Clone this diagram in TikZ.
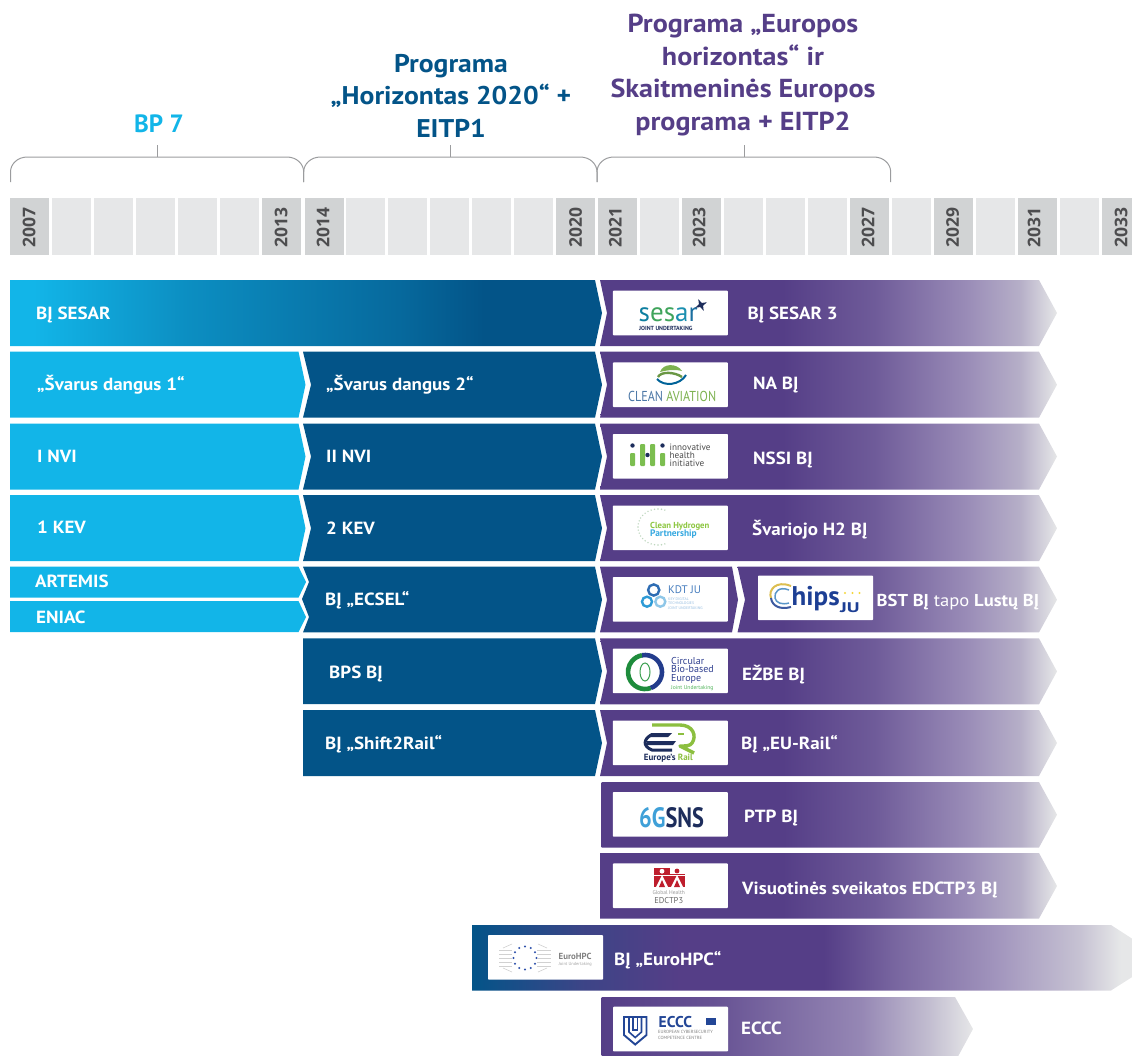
\documentclass[tikz,border=0pt]{standalone}
\usepackage{fontspec}
\usepackage{graphicx}
\usetikzlibrary{shapes.geometric}
\setmainfont{PT Sans}
\newfontfamily\labfont[FakeStretch=1.08]{PT Sans}
\newfontfamily\yearfont{Open Sans}
\definecolor{cy}{HTML}{12B5E8}
\definecolor{nv}{HTML}{035488}
\definecolor{pu}{HTML}{553E87}
\definecolor{cellL}{HTML}{E6E7E8}
\definecolor{cellD}{HTML}{D1D3D4}
\definecolor{brk}{HTML}{9B9C9E}
\definecolor{yr}{HTML}{4D4D4F}
\definecolor{inkn}{HTML}{1D2D5C}
\definecolor{gleaf}{HTML}{7DB250}
\definecolor{railg}{HTML}{8CBF3F}
\definecolor{kdtink}{HTML}{467DBE}
\definecolor{kdtpale}{HTML}{96BEE1}
\definecolor{chipsink}{HTML}{1D3F94}
\definecolor{circink}{HTML}{2F3F8F}
\definecolor{ecink}{HTML}{234696}
\definecolor{edred}{HTML}{BE1E2D}
\definecolor{ihigreen}{HTML}{7CBE50}
\pgfdeclarehorizontalshading{purplebar}{100bp}{
 color(0bp)=(pu); color(25bp)=(pu); color(45bp)=(pu); color(55bp)=(pu!85!white); color(65bp)=(pu!60!white); color(71bp)=(pu!33!cellL); color(75bp)=(cellL); color(100bp)=(cellL)}
\pgfdeclarehorizontalshading{sesarbar}{100bp}{
 color(0bp)=(cy); color(25bp)=(cy); color(27bp)=(cy); color(40bp)=(cy!60!nv); color(58bp)=(nv!75!cy!85!nv); color(65bp)=(nv); color(75bp)=(nv); color(100bp)=(nv)}
\pgfdeclarehorizontalshading{hpcbar}{100bp}{
 color(0bp)=(nv); color(25bp)=(nv); color(33bp)=(pu!70!nv); color(40bp)=(pu); color(50.5bp)=(pu); color(56bp)=(pu!78!white); color(63bp)=(pu!55!white); color(69bp)=(pu!22!cellL); color(72bp)=(cellL); color(100bp)=(cellL)}
\pgfdeclarehorizontalshading{ecccbar}{100bp}{
 color(0bp)=(pu); color(25bp)=(pu); color(40bp)=(pu!90!white); color(60bp)=(pu!62!white); color(69bp)=(pu!25!cellL); color(75bp)=(cellL); color(100bp)=(cellL)}
\tikzset{
 x=1pt,y=-1pt,
 lab/.style={anchor=base west,inner sep=0pt,text=white,font=\labfont\fontsize{17.6}{20}\selectfont\bfseries},
 yearlab/.style={rotate=90,anchor=west,inner sep=0pt,text=yr,font=\yearfont\fontsize{17.5}{20}\selectfont\bfseries},
 ttl/.style={align=center,inner sep=0pt,font=\labfont\fontsize{26}{32.5}\selectfont\bfseries},
 logobox/.style={fill=white,rounded corners=0.8pt},
 brace/.style={draw=brk,line width=1pt},
 tiny/.style={inner sep=0pt,anchor=base west},
}
\newcommand{\yearcell}[2]{\fill[#2] (#1,198) rectangle ++(39,57);}
\newcommand{\yearmark}[2]{\node[yearlab] at (#1,248) {#2};}
\newcommand{\brackt}[3]{\draw[brace] (#1,182) -- (#1,172) .. controls (#1,164) and (#1+7,157) .. (#1+17,157) -- (#2-17,157) .. controls (#2-7,157) and (#2,164) .. (#2,172) -- (#2,182);
 \draw[brace] (#3,157) -- (#3,145);}
\newcommand{\purplerow}[1]{\shade[shading=purplebar] (600,#1) -- (1039,#1) -- (1057,#1+33) -- (1039,#1+66) -- (600,#1+66) -- (607,#1+33) -- cycle;}
\newcommand{\navyrow}[1]{\fill[nv] (303,#1) -- (595,#1) -- (602,#1+33) -- (595,#1+66) -- (303,#1+66) -- (311,#1+33) -- cycle;}
\newcommand{\cyanrow}[1]{\fill[cy] (10,#1) -- (298.5,#1) -- (305.5,#1+33) -- (298.5,#1+66) -- (10,#1+66) -- cycle;}
\newcommand{\lbox}[2]{\fill[logobox] (#1,#2) rectangle ++(115,44.6);}
\begin{document}
\begin{tikzpicture}
\useasboundingbox (0,0) rectangle (1132,1055);
\clip (0,0) rectangle (1132,1055);
% titles
\node[ttl,text=cy,font=\fontsize{25}{32}\selectfont\bfseries] (t1) at (159,124) {BP 7};
\node[ttl,text=nv,font=\labfont\fontsize{25.6}{32.5}\selectfont\bfseries] (t2) at (451,95.5) {Programa\\„Horizontas 2020“ +\\EITP1};
\node[ttl,text=pu] (t3) at (743,75) {Programa „Europos\\horizontas“ ir\\Skaitmeninės Europos\\programa + EITP2};
% brackets
\brackt{10.5}{303.7}{157}
\brackt{303.7}{597}{450.5}
\brackt{597}{890.7}{744}
% years
\yearcell{10.3}{cellD}
\yearcell{52.4}{cellL}
\yearcell{94.4}{cellL}
\yearcell{136.4}{cellL}
\yearcell{178.4}{cellL}
\yearcell{220.4}{cellL}
\yearcell{262.2}{cellD}
\yearcell{304.5}{cellD}
\yearcell{346.4}{cellL}
\yearcell{388.4}{cellL}
\yearcell{430.4}{cellL}
\yearcell{472.4}{cellL}
\yearcell{514.4}{cellL}
\yearcell{556}{cellD}
\yearcell{598}{cellD}
\yearcell{640}{cellL}
\yearcell{682}{cellD}
\yearcell{724}{cellL}
\yearcell{766}{cellL}
\yearcell{808}{cellL}
\yearcell{850}{cellD}
\yearcell{892}{cellL}
\yearcell{934}{cellD}
\yearcell{976}{cellL}
\yearcell{1018}{cellD}
\yearcell{1060}{cellL}
\yearcell{1102}{cellD}
\yearmark{29}{2007}
\yearmark{281}{2013}
\yearmark{323}{2014}
\yearmark{575.5}{2020}
\yearmark{615.4}{2021}
\yearmark{699}{2023}
\yearmark{868}{2027}
\yearmark{952.5}{2029}
\yearmark{1034}{2031}
\yearmark{1121}{2033}
% left bars
\shade[shading=sesarbar] (10,280) -- (595,280) -- (602,313) -- (595,346) -- (10,346) -- cycle;
\cyanrow{351.7}
\cyanrow{423.5}
\cyanrow{495.2}
\fill[cy] (10,566.7) -- (298.5,566.7) -- (306,582) -- (298.5,597.7) -- (10,597.7) -- cycle;
\fill[cy] (10,601) -- (298.5,601) -- (306,617) -- (298.5,632) -- (10,632) -- cycle;
\navyrow{351.7}
\navyrow{423.5}
\navyrow{495.2}
\fill[nv] (303,566.7) -- (595,566.7) -- (602,599.7) -- (595,632.4) -- (303,632.4) -- (309,617) -- (302,599) -- (309,582) -- cycle;
\fill[nv] (303,638.4) -- (595,638.4) -- (602,671) -- (595,704) -- (303,704) -- cycle;
\fill[nv] (303,710) -- (595,710) -- (602,743) -- (595,776) -- (303,776) -- cycle;
% purple bars
\purplerow{280}
\purplerow{351.7}
\purplerow{423.5}
\purplerow{495.2}
\fill[pu] (600,566.7) -- (732,566.7) -- (738,599.7) -- (732,632.4) -- (600,632.4) -- (607,599.7) -- cycle;
\shade[shading=purplebar] (600,566.7) (737.5,566.7) -- (1039,566.7) -- (1057,599.7) -- (1039,632.4) -- (737.5,632.4) -- (745,599.7) -- cycle;
\purplerow{638.4}
\purplerow{710}
\shade[shading=purplebar] (601.5,782) -- (1039,782) -- (1057,814.7) -- (1039,847.5) -- (601.5,847.5) -- cycle;
\shade[shading=purplebar] (600,853) -- (1039,853) -- (1057,886) -- (1039,918.5) -- (600,918.5) -- cycle;
\shade[shading=hpcbar] (472,925) -- (1111,925) -- (1162,958) -- (1111,990.5) -- (472,990.5) -- cycle;
\shade[shading=ecccbar] (601.5,997) -- (955,997) -- (973,1029) -- (955,1062) -- (601.5,1062) -- cycle;
% labels
\node[lab] (a1) at (36,319) {BĮ SESAR};
\node[lab] (a2) at (37,390) {„Švarus dangus 1“};
\node[lab] (a3) at (37,462) {I NVI};
\node[lab] (a4) at (37,533) {1 KEV};
\node[lab] (a5) at (35,587) {ARTEMIS};
\node[lab] (a6) at (36,623) {ENIAC};
\node[lab] (b2) at (326,390) {„Švarus dangus 2“};
\node[lab] (b3) at (326,462) {II NVI};
\node[lab] (b4) at (326,534) {2 KEV};
\node[lab] (b5) at (325,605) {BĮ „ECSEL“};
\node[lab] (b6) at (329,678) {BPS BĮ};
\node[lab] (b7) at (325,749) {BĮ „Shift2Rail“};
\node[lab] (c1) at (747.5,319) {BĮ SESAR 3};
\node[lab] (c2) at (753,389) {NA BĮ};
\node[lab] (c3) at (753,464) {NSSI BĮ};
\node[lab] (c4) at (752,535) {Švariojo H2 BĮ};
\node[lab,font=\labfont\fontsize{17.2}{20}\selectfont\bfseries] (c5) at (876.5,606) {BST BĮ \mdseries tapo \bfseries Lustų BĮ};
\node[lab] (c6) at (742,680) {EŽBE BĮ};
\node[lab] (c7) at (741,749) {BĮ „EU-Rail“};
\node[lab] (c8) at (744,822) {PTP BĮ};
\node[lab] (c9) at (742,894) {Visuotinės sveikatos EDCTP3 BĮ};
\node[lab] (c10) at (614,965) {BĮ „EuroHPC“};
\node[lab] (c11) at (741,1034) {ECCC};
% logo boxes
\lbox{612.8}{290.7}
\lbox{612.8}{362.4}
\lbox{612.8}{434}
\lbox{612.8}{505.6}
\lbox{612.8}{577}
\lbox{758}{575.6}
\lbox{612.8}{648.6}
\lbox{612.8}{720.6}
\lbox{612.8}{792}
\lbox{612.8}{863.4}
\lbox{488}{935}
\lbox{613}{1006.7}
% sesar logo
\node[tiny,font=\fontsize{27}{27}\selectfont] (l1) at (638.5,321.5) {\textcolor[HTML]{0E7FA0}{s}\textcolor[HTML]{3FA45B}{e}\textcolor[HTML]{3FA45B}{s}\textcolor[HTML]{1B8FB0}{a}\textcolor[HTML]{1B6FA0}{r}};
\node[tiny,font=\fontsize{5.9}{6}\selectfont\bfseries,text=inkn] (l1b) at (639,330) {JOINT UNDERTAKING};
\node[star,star points=4,star point ratio=3,fill=inkn,minimum size=13pt,inner sep=0pt,rotate=25] (l1s) at (701,305) {};
% clean aviation
\fill[gleaf] (660,372) .. controls (663,363) and (677,363) .. (682,371) .. controls (674,369) and (668,370) .. (660,372) -- cycle;
\draw[color=gleaf!85!black,line width=2.4pt] (658,377) .. controls (661,371) and (675,372) .. (682,377);
\draw[color=blue!35!cyan!60!black,line width=2pt] (657,379) .. controls (664,387) and (680,385) .. (686,375);
\node[tiny,font=\fontsize{14.4}{16}\selectfont] (l2) at (628,401) {\scalebox{0.84}[1]{\textcolor[HTML]{4B77A6}{CLEAN} \textcolor{gleaf}{AVIATION}}};
% ihi
\fill[ihigreen,rounded corners=1pt] (630,453) rectangle ++(5,13);
\fill[ihigreen,rounded corners=1pt] (640,444) rectangle ++(5,22);
\fill[ihigreen,rounded corners=1pt] (650,444) rectangle ++(5,22);
\fill[ihigreen,rounded corners=1pt] (660,453) rectangle ++(5,13);
\fill[inkn] (632.5,445.5) circle (2.2pt);
\fill[inkn] (647.5,455) circle (2.2pt);
\fill[inkn] (662.5,445.5) circle (2.2pt);
\node[tiny,text=black!70,font=\fontsize{9.2}{10}\selectfont] (l3) at (669.5,450) {innovative};
\node[tiny,text=black!70,font=\fontsize{9.2}{10}\selectfont] (l3b) at (669.5,458) {health};
\node[tiny,text=black!70,font=\fontsize{9.2}{10}\selectfont] (l3c) at (669.5,466) {initiative};
% clean hydrogen
\foreach \a in {70,80,...,290}
  \fill[color={rgb,255:red,190;green,215;blue,190}] ({658+20*cos(\a)},{527-18*sin(\a)}) circle (0.8pt);
\node[tiny,text={rgb,255:red,140;green,198;blue,63},font=\fontsize{8.7}{9}\selectfont\bfseries] (l4) at (650,528) {Clean Hydrogen};
\node[tiny,text={rgb,255:red,53;green,168;blue,224},font=\fontsize{9.4}{9}\selectfont\bfseries] (l4b) at (650,536.5) {Partnership};
% KDT
\draw[color={rgb,255:red,46;green,109;blue,180},line width=2.4pt] (653.7,590) circle (5.6pt);
\draw[color={rgb,255:red,46;green,155;blue,214},line width=2.4pt] (647,601.7) circle (5pt);
\draw[color={rgb,255:red,143;green,199;blue,232},line width=2.4pt] (660.3,601.7) circle (5pt);
\node[tiny,text=kdtink,font=\fontsize{11}{12}\selectfont] (l5) at (668,593) {KDT JU};
\node[tiny,text=kdtpale,font=\fontsize{3.8}{4}\selectfont] (l5a) at (668,600) {KEY DIGITAL};
\node[tiny,text=kdtpale,font=\fontsize{3.8}{4}\selectfont] (l5b) at (668,604.5) {TECHNOLOGIES};
\node[tiny,text=kdtpale,font=\fontsize{3.8}{4}\selectfont] (l5c) at (668,609) {JOINT UNDERTAKING};
% Chips
\node[tiny,text=chipsink,font=\fontsize{27}{27}\selectfont\bfseries] (l6) at (791.5,605) {hips};
\draw[color={rgb,255:red,220;green,190;blue,80},line width=2pt] (791,586) .. controls (776,580) and (768,590) .. (771,598);
\draw[color={rgb,255:red,60;green,90;blue,160},line width=2pt] (771,598) .. controls (772,606) and (780,610) .. (791,607);
\draw[color={rgb,255:red,90;green,150;blue,200},line width=1.5pt] (789,590) .. controls (779,586) and (774,592) .. (775,598) .. controls (776,603) and (782,605) .. (789,603);
\node[tiny,text=chipsink,font=\fontsize{14}{14}\selectfont\bfseries] (l6b) at (840,612) {\scalebox{1.45}[1]{JU}};
\foreach \x in {845,852.5,859.5} \fill[color={rgb,255:red,245;green,215;blue,60}] (\x,593) circle (1.2pt);
% Circular
\draw[color={rgb,255:red,30;green,140;blue,60},line width=4.6pt] (645,672) ++(70:17) arc (70:260:17);
\draw[color={rgb,255:red,35;green,60;blue,140},line width=4.6pt] (645,672) ++(-100:17) arc (-100:70:17);
\draw[color={rgb,255:red,60;green,160;blue,80},line width=1pt] (645,672) ellipse (5pt and 9pt);
\node[tiny,text=circink,font=\fontsize{10}{10}\selectfont] (l7) at (671,664) {Circular};
\node[tiny,text=circink,font=\fontsize{10}{10}\selectfont] (l7b) at (671,672.5) {Bio-based};
\node[tiny,text=circink,font=\fontsize{10}{10}\selectfont] (l7c) at (671,681) {Europe};
\node[tiny,text={rgb,255:red,80;green,180;blue,90},font=\fontsize{5.6}{6}\selectfont] (l7d) at (671,689) {Joint Undertaking};
% Rail
\draw[color=railg,line width=3.4pt,line join=round] (652,725) -- (680,725) .. controls (693,725) and (697,736) .. (692,743) .. controls (690,746) and (686,746) .. (680,746) -- (694,753);
\draw[color=railg,line width=2.5pt] (678,734) -- (684,734);
\fill[inkn] (651,733) -- (672,733) -- (668,737) -- (648,737) -- cycle;
\fill[inkn] (647,741) -- (676,741) -- (673,745) -- (646,745) -- cycle;
\draw[inkn,line width=3pt] (651,735) .. controls (644,739) and (642,746) .. (652,750) -- (672,750);
\node[tiny,text=inkn,font=\fontsize{9}{9}\selectfont\bfseries] (l8) at (643.7,760.5) {Europe's \textcolor{railg}{Rail}};
% 6G SNS
\node[tiny,font=\fontsize{28}{26}\selectfont\bfseries] (l9) at (639,827) {\scalebox{0.8}[1]{\textcolor[HTML]{3FA0D8}{6G}\textcolor{inkn}{SNS}}};
% EDCTP
\fill[edred] (653.7,868) rectangle (684.7,887);
\fill[white] (669.5,868) rectangle (684.7,874);
\fill[white] (662,871.2) circle (2.4pt);
\fill[edred] (677,871) circle (2.4pt);
\draw[white,line width=0.9pt] (653.7,875) -- (684.7,875);
\foreach \x in {662,677}{
 \fill[white] (\x,875) -- (\x-6,887) -- (\x+6,887) -- cycle;
 \fill[edred] (\x,880) -- (\x-3,887) -- (\x+3,887) -- cycle;}
\node[inner sep=0pt,text=black!40,font=\fontsize{5.5}{6}\selectfont] (l10) at (668.7,892.5) {Global Health};
\node[inner sep=0pt,text=black!60,font=\fontsize{8.5}{9}\selectfont] (l10b) at (668.7,901) {EDCTP3};
% EuroHPC
\foreach \a in {0,30,...,330}
  \fill[color={rgb,255:red,45;green,80;blue,170}] ({525+11.5*cos(\a)},{958+11.5*sin(\a)}) circle (1.1pt);
\foreach \k in {0,1,2,3,4}{
  \draw[black!18,line width=0.6pt] (499,{950+\k*4}) -- (512,{950+\k*4});
  \draw[black!18,line width=0.6pt] (537,{950+\k*4}) -- (551,{950+\k*4});}
\draw[black!18,line width=0.6pt] (503,948) -- (512,944) (547,948) -- (538,944) (503,968) -- (512,972) (547,968) -- (538,972);
\node[tiny,text=black!50,font=\fontsize{8.8}{9}\selectfont\bfseries] (l11) at (558.5,959.5) {EuroHPC};
\node[tiny,text=black!35,font=\fontsize{4.4}{5}\selectfont] (l11b) at (558.5,965) {Joint Undertaking};
% ECCC
\draw[ecink,line width=1.9pt,line join=miter] (624,1017) -- (646.5,1017) -- (646.5,1035) -- (635.2,1044.5) -- (624,1035) -- cycle;
\draw[ecink,line width=1.6pt] (629,1017) -- (629,1032) -- (635.2,1037.5) -- (641.5,1032) -- (641.5,1017);
\draw[ecink,line width=1.6pt] (633,1018) -- (633,1030) -- (637.5,1030) -- (637.5,1018);
\node[tiny,text=ecink,font=\fontsize{15.6}{19}\selectfont\bfseries] (l12) at (658.5,1027) {ECCC};
\fill[ecink] (706,1018.3) rectangle (716.3,1025);
\node[tiny,text=black!50,font=\fontsize{4.5}{5}\selectfont] (l12b) at (658,1033.5) {EUROPEAN CYBERSECURITY};
\node[tiny,text=black!50,font=\fontsize{4.5}{5}\selectfont] (l12c) at (658,1039) {COMPETENCE CENTRE};
\end{tikzpicture}
\end{document}
